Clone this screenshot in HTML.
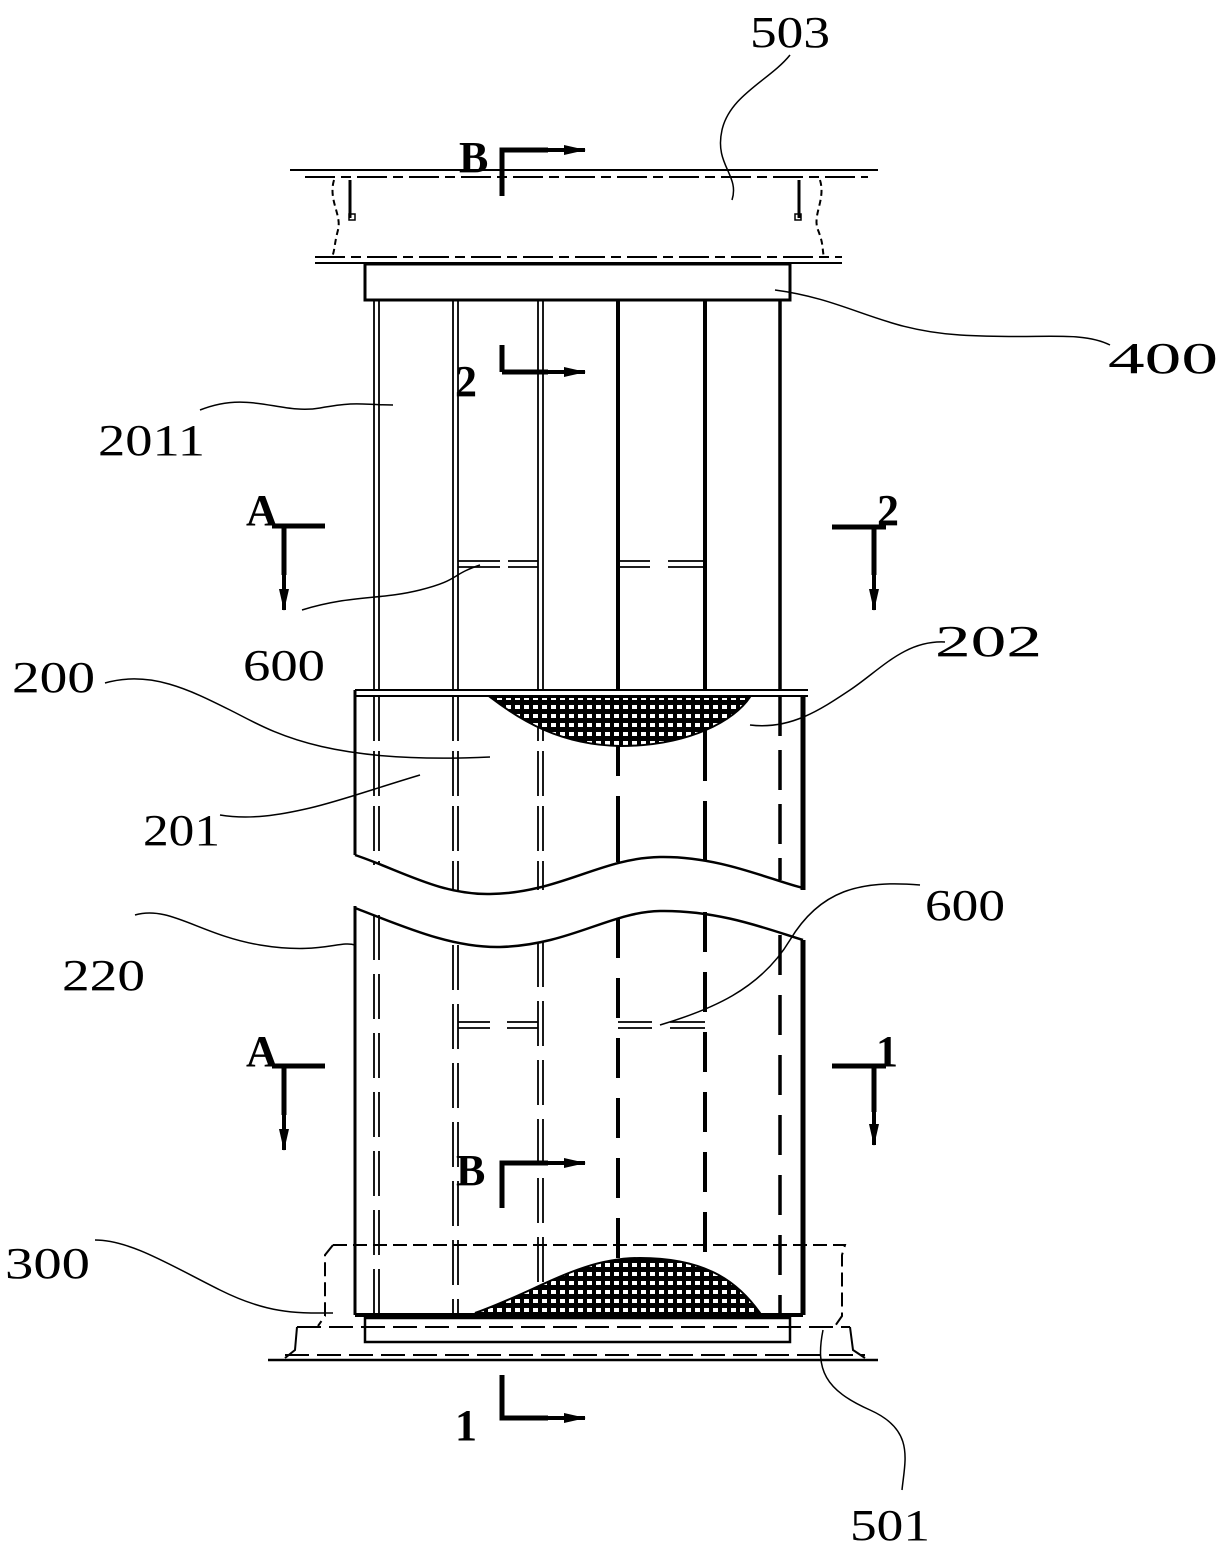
<!DOCTYPE html>
<html><head><meta charset="utf-8"><style>html,body{margin:0;padding:0;background:#fff}svg{display:block}text{font-family:"Liberation Serif",serif;fill:#000}</style></head><body>
<svg width="1224" height="1544" viewBox="0 0 1224 1544" xmlns="http://www.w3.org/2000/svg">
<defs>
<pattern id="h" width="9" height="9" patternUnits="userSpaceOnUse"><rect width="9" height="9" fill="#000"/><rect x="2" y="3" width="5" height="4" fill="#fff"/></pattern>
<marker id="ar" markerWidth="22" markerHeight="12" refX="21" refY="6" orient="auto" markerUnits="userSpaceOnUse"><path d="M0,1 L22,6 L0,11z" fill="#000"/></marker>
</defs>
<g stroke="#000" fill="none">
<line x1="290" y1="170" x2="878" y2="170" stroke-width="2"/>
<line x1="305" y1="177" x2="868" y2="177" stroke-width="2" stroke-dasharray="30 6 10 6"/>
<line x1="315" y1="257" x2="842" y2="257" stroke-width="2" stroke-dasharray="30 6 10 6"/>
<line x1="315" y1="263" x2="842" y2="263" stroke-width="2"/>
<path d="M334 180 C328 200,342 215,338 230 S335 250,332 257" stroke-width="2" stroke-dasharray="6 4"/>
<path d="M820 180 C826 200,812 215,818 230 S822 250,824 257" stroke-width="2" stroke-dasharray="6 4"/>
<line x1="350" y1="180" x2="350" y2="218" stroke-width="3"/><rect x="349" y="214" width="6" height="6" stroke-width="1.5"/>
<line x1="799" y1="180" x2="799" y2="218" stroke-width="3"/><rect x="795" y="214" width="6" height="6" stroke-width="1.5"/>
<rect x="365" y="264" width="425" height="36" stroke-width="3"/>
<g stroke-width="1.8">
<line x1="374" y1="300" x2="374" y2="690"/><line x1="379" y1="300" x2="379" y2="690"/>
<line x1="453" y1="300" x2="453" y2="690"/><line x1="458" y1="300" x2="458" y2="690"/>
<line x1="538" y1="300" x2="538" y2="690"/><line x1="543" y1="300" x2="543" y2="690"/>
</g>
<line x1="618" y1="300" x2="618" y2="690" stroke-width="4"/>
<line x1="705" y1="300" x2="705" y2="690" stroke-width="4"/>
<line x1="780" y1="300" x2="780" y2="690" stroke-width="3.5"/>
<g stroke-width="1.8">
<line x1="458" y1="561" x2="500" y2="561"/><line x1="458" y1="567" x2="500" y2="567"/>
<line x1="508" y1="561" x2="538" y2="561"/><line x1="508" y1="567" x2="538" y2="567"/>
<line x1="618" y1="561" x2="650" y2="561"/><line x1="618" y1="567" x2="650" y2="567"/>
<line x1="668" y1="561" x2="705" y2="561"/><line x1="668" y1="567" x2="705" y2="567"/>
</g>
<line x1="355" y1="690" x2="808" y2="690" stroke-width="2"/>
<line x1="355" y1="696" x2="808" y2="696" stroke-width="2"/>
<line x1="355" y1="690" x2="355" y2="855" stroke-width="3"/>
<line x1="803" y1="696" x2="803" y2="890" stroke-width="5"/>
<g stroke-width="1.8" stroke-dasharray="45 10">
<line x1="374" y1="696" x2="374" y2="865"/><line x1="379" y1="696" x2="379" y2="865"/>
<line x1="453" y1="696" x2="453" y2="890"/><line x1="458" y1="696" x2="458" y2="890"/>
<line x1="538" y1="696" x2="538" y2="890"/><line x1="543" y1="696" x2="543" y2="890"/>
</g>
<line x1="618" y1="696" x2="618" y2="862" stroke-width="4" stroke-dasharray="80 20"/>
<line x1="705" y1="696" x2="705" y2="860" stroke-width="4" stroke-dasharray="85 20"/>
<line x1="780" y1="696" x2="780" y2="880" stroke-width="3.5" stroke-dasharray="40 14"/>
<path d="M490 697 C520 720,560 745,620 746 C690 746,735 720,750 697 Z" fill="url(#h)" stroke-width="2"/>
<path d="M355 855 C400 870,440 895,490 894 C560 893,600 858,660 857 C720 856,770 880,803 888" stroke-width="2.5"/>
<path d="M355 908 C400 925,450 948,500 947 C570 945,610 912,660 911 C720 910,770 930,803 940" stroke-width="2.5"/>
<line x1="355" y1="906" x2="355" y2="1315" stroke-width="3"/>
<line x1="803" y1="940" x2="803" y2="1315" stroke-width="5"/>
<g stroke-width="1.8" stroke-dasharray="45 14">
<line x1="374" y1="915" x2="374" y2="1315"/><line x1="379" y1="915" x2="379" y2="1315"/>
<line x1="453" y1="945" x2="453" y2="1315"/><line x1="458" y1="945" x2="458" y2="1315"/>
<line x1="538" y1="942" x2="538" y2="1315"/><line x1="543" y1="942" x2="543" y2="1315"/>
</g>
<line x1="618" y1="918" x2="618" y2="1315" stroke-width="4" stroke-dasharray="40 20"/>
<line x1="705" y1="912" x2="705" y2="1315" stroke-width="4" stroke-dasharray="40 20"/>
<line x1="780" y1="935" x2="780" y2="1315" stroke-width="3.5" stroke-dasharray="40 20"/>
<g stroke-width="1.8">
<line x1="458" y1="1022" x2="490" y2="1022"/><line x1="458" y1="1028" x2="490" y2="1028"/>
<line x1="507" y1="1022" x2="538" y2="1022"/><line x1="507" y1="1028" x2="538" y2="1028"/>
<line x1="618" y1="1022" x2="652" y2="1022"/><line x1="618" y1="1028" x2="652" y2="1028"/>
<line x1="670" y1="1022" x2="705" y2="1022"/><line x1="670" y1="1028" x2="705" y2="1028"/>
</g>
<path d="M475 1313 C540 1290,580 1258,640 1258 C710 1258,740 1285,760 1313 Z" fill="url(#h)" stroke-width="2"/>
<line x1="355" y1="1315" x2="803" y2="1315" stroke-width="4"/>
<path d="M333 1245 L845 1245 L842 1255 L842 1316 L835 1326" stroke-width="2" stroke-dasharray="14 6"/>
<path d="M333 1245 L325 1255 L325 1316 L318 1326" stroke-width="2" stroke-dasharray="14 6"/>
<rect x="365" y="1318" width="425" height="24" stroke-width="2.5"/>
<line x1="297" y1="1327" x2="850" y2="1327" stroke-width="2" stroke-dasharray="24 8"/>
<path d="M297 1327 L295 1350 L285 1358" stroke-width="2"/>
<path d="M850 1327 L853 1350 L865 1358" stroke-width="2"/>
<line x1="268" y1="1360" x2="878" y2="1360" stroke-width="2.5"/>
<line x1="285" y1="1355" x2="865" y2="1355" stroke-width="2" stroke-dasharray="24 8"/>
<g stroke-width="5">
<path d="M502 196 V150 H548"/><path d="M502 372 V345"/><path d="M502 372 H548"/>
<path d="M272 526 H325 M284 526 V575"/><path d="M832 527 H886 M874 527 V575"/>
<path d="M272 1066 H325 M284 1066 V1115"/><path d="M832 1066 H886 M874 1066 V1112"/>
<path d="M502 1208 V1163 H548"/><path d="M502 1375 V1418 H548"/>
</g>
<g stroke-width="4">
<line x1="546" y1="150" x2="585" y2="150" marker-end="url(#ar)"/>
<line x1="546" y1="372" x2="585" y2="372" marker-end="url(#ar)"/>
<line x1="546" y1="1163" x2="585" y2="1163" marker-end="url(#ar)"/>
<line x1="546" y1="1418" x2="585" y2="1418" marker-end="url(#ar)"/>
<line x1="284" y1="573" x2="284" y2="610" marker-end="url(#ar)"/>
<line x1="874" y1="573" x2="874" y2="610" marker-end="url(#ar)"/>
<line x1="284" y1="1113" x2="284" y2="1150" marker-end="url(#ar)"/>
<line x1="874" y1="1110" x2="874" y2="1145" marker-end="url(#ar)"/>
</g>
<g stroke-width="1.5">
<path d="M790 55 C770 80,730 95,722 130 S740 175,732 200"/>
<path d="M775 290 C850 300,880 330,960 335 S1080 330,1110 345"/>
<path d="M200 410 C250 390,280 415,320 408 S360 405,393 405"/>
<path d="M302 610 C350 595,380 600,420 590 S450 575,480 565"/>
<path d="M105 683 C150 670,190 690,230 710 S320 765,490 757"/>
<path d="M750 725 C790 730,820 710,850 690 S905 640,945 642"/>
<path d="M220 815 C250 820,280 815,310 808 S370 790,420 775"/>
<path d="M135 915 C170 905,200 935,260 945 S340 940,355 945"/>
<path d="M660 1025 C710 1010,760 990,790 940 S860 880,920 885"/>
<path d="M95 1240 C130 1240,170 1265,220 1290 S300 1313,333 1313"/>
<path d="M823 1330 C815 1370,825 1390,870 1410 S905 1460,902 1490"/>
</g>
</g>
<g font-size="44">
<text x="750" y="47" textLength="80" lengthAdjust="spacingAndGlyphs">503</text>
<text x="1108" y="373" textLength="110" lengthAdjust="spacingAndGlyphs">400</text>
<text x="98" y="455" textLength="107" lengthAdjust="spacingAndGlyphs">2011</text>
<text x="243" y="680" textLength="82" lengthAdjust="spacingAndGlyphs">600</text>
<text x="12" y="692" textLength="83" lengthAdjust="spacingAndGlyphs">200</text>
<text x="935" y="656" textLength="107" lengthAdjust="spacingAndGlyphs">202</text>
<text x="143" y="845" textLength="77" lengthAdjust="spacingAndGlyphs">201</text>
<text x="62" y="990" textLength="83" lengthAdjust="spacingAndGlyphs">220</text>
<text x="925" y="920" textLength="80" lengthAdjust="spacingAndGlyphs">600</text>
<text x="5" y="1278" textLength="85" lengthAdjust="spacingAndGlyphs">300</text>
<text x="850" y="1540" textLength="80" lengthAdjust="spacingAndGlyphs">501</text>
</g>
<g font-size="44" font-weight="bold">
<text x="459" y="172">B</text>
<text x="455" y="396">2</text>
<text x="246" y="525">A</text>
<text x="877" y="525">2</text>
<text x="246" y="1066">A</text>
<text x="876" y="1066">1</text>
<text x="456" y="1185">B</text>
<text x="455" y="1440">1</text>
</g>
</svg>
</body></html>
